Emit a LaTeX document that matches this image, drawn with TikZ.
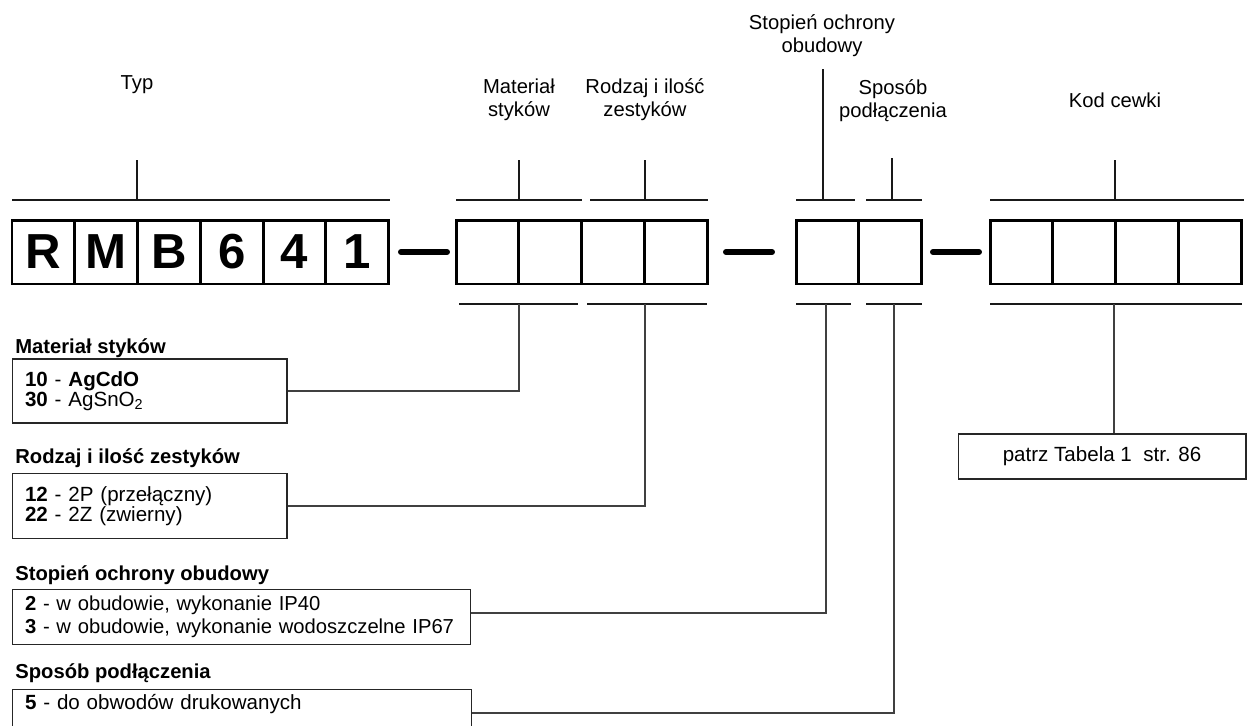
\documentclass[tikz,border=0pt]{standalone}
\usepackage{fontspec}
\setmainfont{Liberation Sans}
\usepackage{tikz}
\usetikzlibrary{
    positioning,
    calc
}
\tikzset{
    cell/.style={
        rectangle, draw, line width=1.7pt,
        outer sep=0pt, inner sep=0pt,
        minimum width=1.256cm, minimum height=1.28cm,
        font=\fontsize{28}{28}\selectfont\bfseries
    },
    dashline/.style={
        line width=3.4pt, line cap=round
    },
    bracket/.style={
        line width=1.1pt, draw=black!90
    },
    conn/.style={
        line width=0.7pt, draw=black!75
    },
    infobox/.style={
        rectangle, draw=black!85, line width=0.6pt,
        inner xsep=0.26cm, align=left,
        font=\fontsize{11.7}{11.5}\selectfont
    },
    boxtitle/.style={
        anchor=west, inner sep=0pt,
        font=\fontsize{11.5}{11.5}\selectfont\bfseries
    }
}

\begin{document}
\begin{tikzpicture}[x=0.02cm, y=-0.02cm,
	toplabel/.style={align=center, inner sep=0pt, font=\fontsize{11.5}{13.1}\selectfont}
	]
	\useasboundingbox (0,0) rectangle (1249,725);
	\clip (0,0) rectangle (1249,725);
	
	% CODE CELLS
	\node (r) [cell] at (43.4,252) {R};
	\node (m) [cell, right=0pt of r] {M};
	\node (b) [cell, right=0pt of m] {B};
	\node (six) [cell, right=0pt of b] {6};
	\node (four) [cell, right=0pt of six] {4};
	\node (one) [cell, right=0pt of four] {1};
	
	\node (m1) [cell] at (487.4,252) {};
	\node (m2) [cell, right=0pt of m1] {};
	\node (z1) [cell, right=0pt of m2] {};
	\node (z2) [cell, right=0pt of z1] {};
	
	\node (st) [cell] at (827.4,252) {};
	\node (sp) [cell, right=0pt of st] {};
	
	\node (k1) [cell] at (1021.4,252) {};
	\node (k2) [cell, right=0pt of k1] {};
	\node (k3) [cell, right=0pt of k2] {};
	\node (k4) [cell, right=0pt of k3] {};
	
	% DASHES
	\draw[dashline] (401,252) -- (447,252);
	\draw[dashline] (726,252) -- (772,252);
	\draw[dashline] (933,252) -- (979,252);
	
	% TOP LABELS
	\node (typ) [toplabel] at (137,85) {Typ};
	\node (mat) [toplabel] at (519,99.5) {Materiał\\styków};
	\node (rodz) [toplabel] at (645,99.5) {Rodzaj i ilość\\zestyków};
	\node (stop) [toplabel] at (822,36) {Stopień ochrony\\obudowy};
	\node (spos) [toplabel] at (893,101) {Sposób\\podłączenia};
	\node (kod) [toplabel] at (1115,100) {Kod cewki};
	
	% TOP BRACKETS
	\coordinate (typ-t) at (137,200);
	\coordinate (mat-t) at (519,200);
	\coordinate (rodz-t) at (645,200);
	\coordinate (stop-t) at (823,200);
	\coordinate (spos-t) at (892,200);
	\coordinate (kod-t) at (1115,200);
	\draw[bracket] (12,200) -- (390,200);
	\draw[bracket] (456,200) -- (582,200);
	\draw[bracket] (590,200) -- (708,200);
	\draw[bracket] (796,200) -- (855,200);
	\draw[bracket] (866,200) -- (922,200);
	\draw[bracket] (990,200) -- (1244,200);
	\draw[bracket] (typ-t) -- ++(0,-40);
	\draw[bracket] (mat-t) -- ++(0,-40);
	\draw[bracket] (rodz-t) -- ++(0,-40);
	\draw[bracket] (stop-t) -- ++(0,-131);
	\draw[bracket] (spos-t) -- ++(0,-42);
	\draw[bracket] (kod-t) -- ++(0,-40);
	
	% BOTTOM BRACKETS
	\coordinate (mat-b) at (519,304);
	\coordinate (rodz-b) at (645,304);
	\coordinate (stop-b) at (826,304);
	\coordinate (spos-b) at (894,304);
	\coordinate (kod-b) at (1114,304);
	\draw[bracket] (459,304) -- (578,304);
	\draw[bracket] (587,304) -- (707,304);
	\draw[bracket] (796,304) -- (851,304);
	\draw[bracket] (866,304) -- (922,304);
	\draw[bracket] (990,304) -- (1242,304);
	
	% LEGEND BOXES
	\node (mattitle) [boxtitle] at (15,348) {Materiał styków};
	\node (matbox) [infobox, minimum width=5.5cm, text width=4.98cm, minimum height=1.28cm] at (149.5,391)
		{\textbf{10} - \textbf{AgCdO}\\\textbf{30} - AgSnO\textsubscript{2}};
	\node (rodztitle) [boxtitle] at (15,458) {Rodzaj i ilość zestyków};
	\node (rodzbox) [infobox, minimum width=5.5cm, text width=4.98cm, minimum height=1.3cm] at (149.5,506)
		{\textbf{12} - 2P (przełączny)\\\textbf{22} - 2Z (zwierny)};
	\node (stoptitle) [boxtitle] at (15,575) {Stopień ochrony obudowy};
	\node (stopbox) [infobox, inner ysep=2pt, minimum width=9.18cm, text width=8.66cm, minimum height=1.1cm,
		font=\fontsize{11.5}{12.8}\selectfont] at (241.5,617)
		{\textbf{2} - w obudowie, wykonanie IP40\\\textbf{3} - w obudowie, wykonanie wodoszczelne IP67};
	\node (sposttitle) [boxtitle] at (15,673) {Sposób podłączenia};
	\node (sposbox) [infobox, minimum width=9.2cm, text width=8.68cm, inner ysep=0.1cm, text depth=0.6cm, anchor=north] at (242,689)
		{\textbf{5} - do obwodów drukowanych};
	\node (patrz) [infobox, inner xsep=0.12cm, minimum width=5.76cm, minimum height=0.9cm, align=center] at (1102,456.5)
		{patrz Tabela 1~~str. 86};
	
	% CONNECTORS
	\draw[conn] (matbox.east) -| (mat-b);
	\draw[conn] (rodzbox.east) -| (rodz-b);
	\draw[conn] (stopbox.east |- 0,613) -| (stop-b);
	\draw[conn] (sposbox.east |- 0,713) -| (spos-b);
	\draw[conn] (kod-b) -- (kod-b |- patrz.north);
	
\end{tikzpicture}
\end{document}
